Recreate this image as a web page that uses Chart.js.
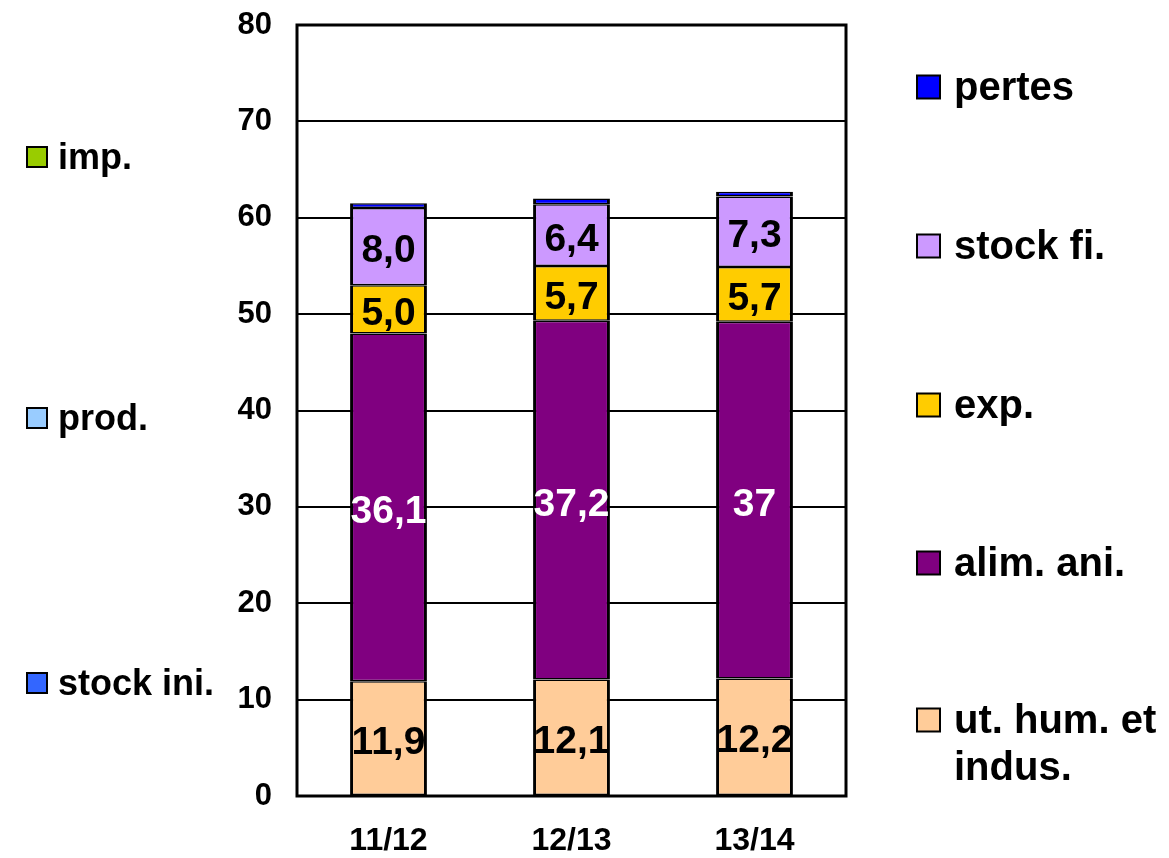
<!DOCTYPE html>
<html><head><meta charset="utf-8">
<script src="https://cdn.jsdelivr.net/npm/chart.js@4/dist/chart.umd.min.js"></script>
<style>html,body{margin:0;padding:0;background:#fff}#wrap{width:1169px;height:858px;position:relative}</style>
</head><body><div id="wrap"><canvas id="c" width="1169" height="858"></canvas></div>
<script>
// ---- data ----
const categories = ['11/12', '12/13', '13/14'];
const utHum   = [11.9, 12.1, 12.2];
const alimAni = [36.1, 37.2, 37];
const expo    = [5.0, 5.7, 5.7];
const stockFi = [8.0, 6.4, 7.3];
const pertes  = [0.5, 0.6, 0.5];
const stockIni = [null, null, null];
const prod     = [null, null, null];
const imp      = [null, null, null];
const alimDecimals = [1, 1, 0];
const yMin = 0, yMax = 80, yStep = 10;

const FONT = '"Liberation Sans", Arial, sans-serif';

const datasets = [
  {label: 'ut. hum. et|indus.', data: utHum, backgroundColor: '#FFCC99', labelColor: '#000', showLabel: true, legendSide: 'right', legendY: 720},
  {label: 'alim. ani.', data: alimAni, backgroundColor: '#800080', labelColor: '#fff', showLabel: true, decimals: alimDecimals, legendSide: 'right', legendY: 563},
  {label: 'exp.', data: expo, backgroundColor: '#FFCC00', labelColor: '#000', showLabel: true, legendSide: 'right', legendY: 405},
  {label: 'stock fi.', data: stockFi, backgroundColor: '#CC99FF', labelColor: '#000', showLabel: true, legendSide: 'right', legendY: 246},
  {label: 'pertes', data: pertes, backgroundColor: '#0000FF', showLabel: false, legendSide: 'right', legendY: 87},
  {label: 'stock ini.', data: stockIni, backgroundColor: '#3366FF', showLabel: false, legendSide: 'left', legendY: 683},
  {label: 'prod.', data: prod, backgroundColor: '#99CCFF', showLabel: false, legendSide: 'left', legendY: 418},
  {label: 'imp.', data: imp, backgroundColor: '#99CC00', showLabel: false, legendSide: 'left', legendY: 157}
].map(d => Object.assign({
  borderColor: '#000',
  borderWidth: {top: 1.5, bottom: 1.5, left: 3, right: 3},
  borderSkipped: false,
  inflateAmount: 0,
  stack: 's'
}, d));

const fmt = (v, dec) => v.toFixed(dec).replace('.', ',');

const labelsPlugin = {
  id: 'segLabels',
  afterDatasetsDraw(chart) {
    const ctx = chart.ctx;
    ctx.save();
    ctx.font = 'bold 39px ' + FONT;
    ctx.textAlign = 'center';
    ctx.textBaseline = 'middle';
    chart.data.datasets.forEach((ds, i) => {
      if (!ds.showLabel) return;
      const meta = chart.getDatasetMeta(i);
      meta.data.forEach((bar, j) => {
        const v = ds.data[j];
        if (v == null) return;
        const dec = ds.decimals ? ds.decimals[j] : 1;
        ctx.fillStyle = ds.labelColor;
        ctx.fillText(fmt(v, dec), bar.x, (bar.y + bar.base) / 2 + 5);
      });
    });
    ctx.restore();
  },
  afterDraw(chart) {
    const ctx = chart.ctx;
    const a = chart.chartArea;
    ctx.save();
    ctx.strokeStyle = '#000';
    ctx.lineWidth = 3;
    ctx.strokeRect(a.left, a.top, a.right - a.left, a.bottom - a.top);
    // legends
    ctx.textBaseline = 'middle';
    ctx.textAlign = 'left';
    chart.data.datasets.forEach(ds => {
      const right = ds.legendSide === 'right';
      const sq = right ? 23 : 20;
      const sx = right ? 917 : 27;
      const tx = right ? 954 : 58;
      const y = ds.legendY;
      ctx.fillStyle = ds.backgroundColor;
      ctx.fillRect(sx, y - sq / 2, sq, sq);
      ctx.lineWidth = 2;
      ctx.strokeStyle = '#000';
      ctx.strokeRect(sx, y - sq / 2, sq, sq);
      ctx.fillStyle = '#000';
      ctx.font = 'bold ' + (right ? 40 : 36) + 'px ' + FONT;
      const lines = ds.label.split('|');
      lines.forEach((ln, k) => ctx.fillText(ln, tx, y + 2 + k * 47));
    });
    ctx.restore();
  }
};

new Chart(document.getElementById('c'), {
  type: 'bar',
  data: {labels: categories, datasets},
  options: {
    responsive: false,
    animation: false,
    layout: {padding: {left: 0, right: 323, top: 25, bottom: 0}},
    datasets: {bar: {categoryPercentage: 1, barPercentage: 0.42}},
    plugins: {legend: {display: false}, tooltip: {enabled: false}},
    scales: {
      x: {
        stacked: true,
        grid: {display: false, drawTicks: false},
        border: {display: false},
        ticks: {color: '#000', font: {family: FONT, size: 32, weight: 'bold'}, padding: 26, maxRotation: 0},
        afterFit(s) { s.height = 62; s.paddingLeft = 0; s.paddingRight = 0; }
      },
      y: {
        stacked: true,
        min: yMin, max: yMax,
        grid: {color: '#000', lineWidth: 2, drawTicks: false},
        border: {display: false},
        ticks: {stepSize: yStep, color: '#000', font: {family: FONT, size: 31, weight: 'bold'}, padding: 25},
        afterFit(s) { s.width = 297; s.paddingTop = 0; s.paddingBottom = 0; }
      }
    }
  },
  plugins: [labelsPlugin]
});
</script>
</body></html>
